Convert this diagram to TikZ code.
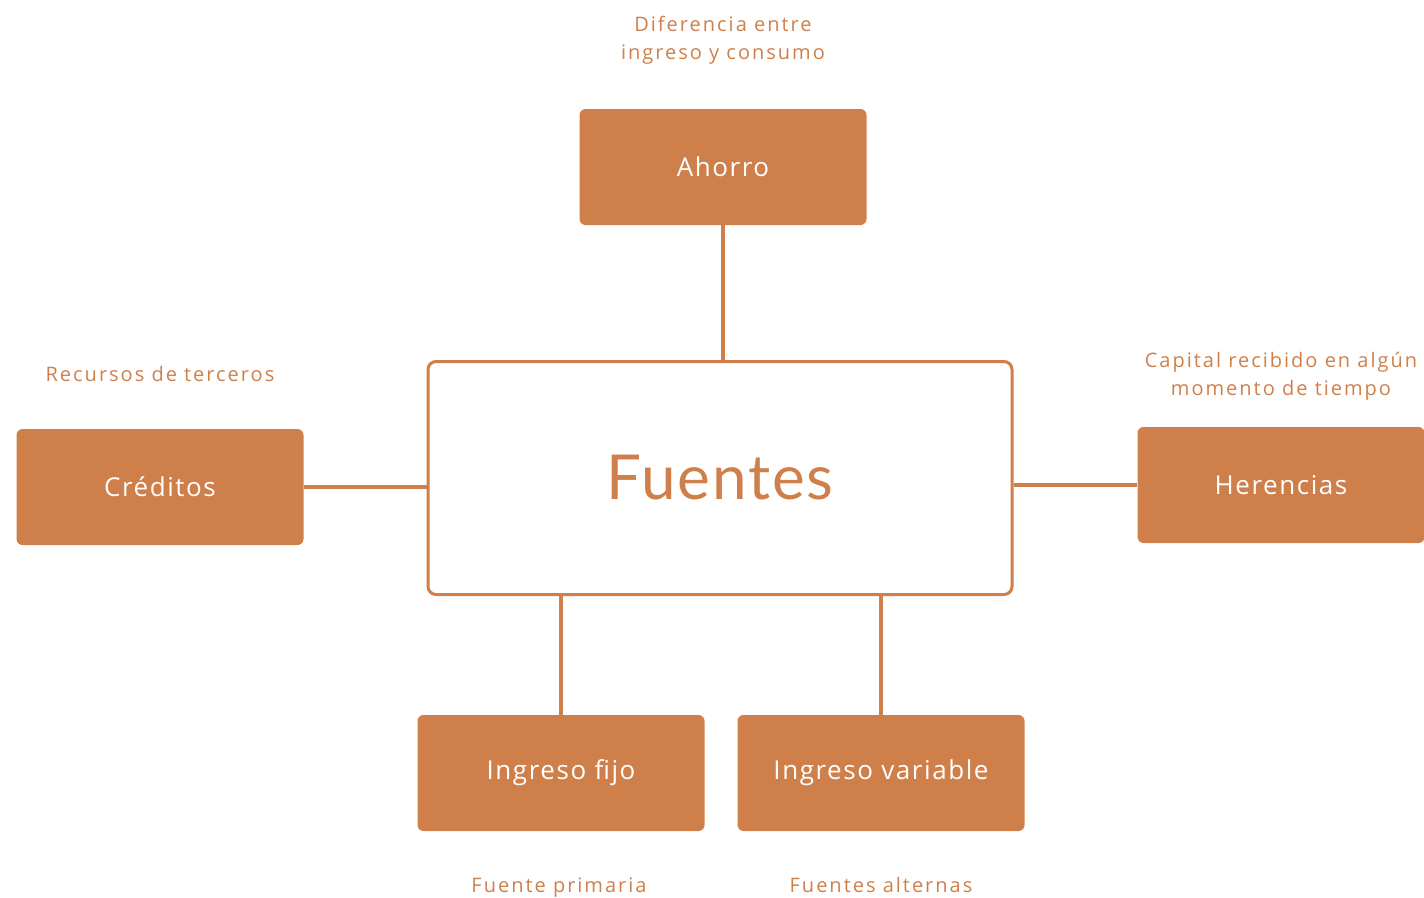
\documentclass[tikz,border=0pt]{standalone}
\usepackage{fontspec}
\setmainfont[LetterSpace=6]{Open Sans}
\newfontfamily\notafont[LetterSpace=10]{Open Sans}
\newfontfamily\titulofont[LetterSpace=3]{Lato}
\usetikzlibrary{positioning}
\definecolor{naranja}{HTML}{CF7F4A}

\begin{document}
\begin{tikzpicture}[x=1pt,y=-1pt,
	caja/.style={rectangle,rounded corners=6pt,fill=naranja,text=white,minimum width=287pt,minimum height=116pt,font=\fontsize{26}{30}\selectfont},
	central/.style={rectangle,rounded corners=8pt,draw=naranja,line width=3pt,fill=white,minimum width=584pt,minimum height=233pt,text=naranja,font=\titulofont\fontsize{62}{64}\selectfont},
	nota/.style={text=naranja,align=center,font=\notafont\fontsize{20}{28}\selectfont},
	linea/.style={naranja,line width=4pt}]
	\useasboundingbox (0,0) rectangle (1424,897);

	\node[central] (fuentes) at (720,478) {Fuentes};
	\node[caja] (ahorro) at (723,167) {Ahorro};
	\node[caja] (creditos) at (160,487) {Créditos};
	\node[caja] (herencias) at (1281,485) {Herencias};
	\node[caja] (fijo) at (561,773) {Ingreso fijo};
	\node[caja] (variable) at (881,773) {Ingreso variable};

	\node[nota] (n1) at (723,40) {Diferencia entre\\ingreso y consumo};
	\node[nota] (n2) at (160,374) {Recursos de terceros};
	\node[nota] (n3) at (1281,376) {Capital recibido en algún\\momento de tiempo};
	\node[nota,anchor=base] (n4) at (559,892) {Fuente primaria};
	\node[nota,anchor=base] (n5) at (881,892) {Fuentes alternas};

	\draw[linea] (ahorro.south) -- (ahorro.south |- fuentes.north);
	\draw[linea] (creditos.east) -- (creditos.east -| fuentes.west);
	\draw[linea] (herencias.west) -- (herencias.west -| fuentes.east);
	\draw[linea] (fijo.north) -- (fijo.north |- fuentes.south);
	\draw[linea] (variable.north) -- (variable.north |- fuentes.south);
\end{tikzpicture}
\end{document}
